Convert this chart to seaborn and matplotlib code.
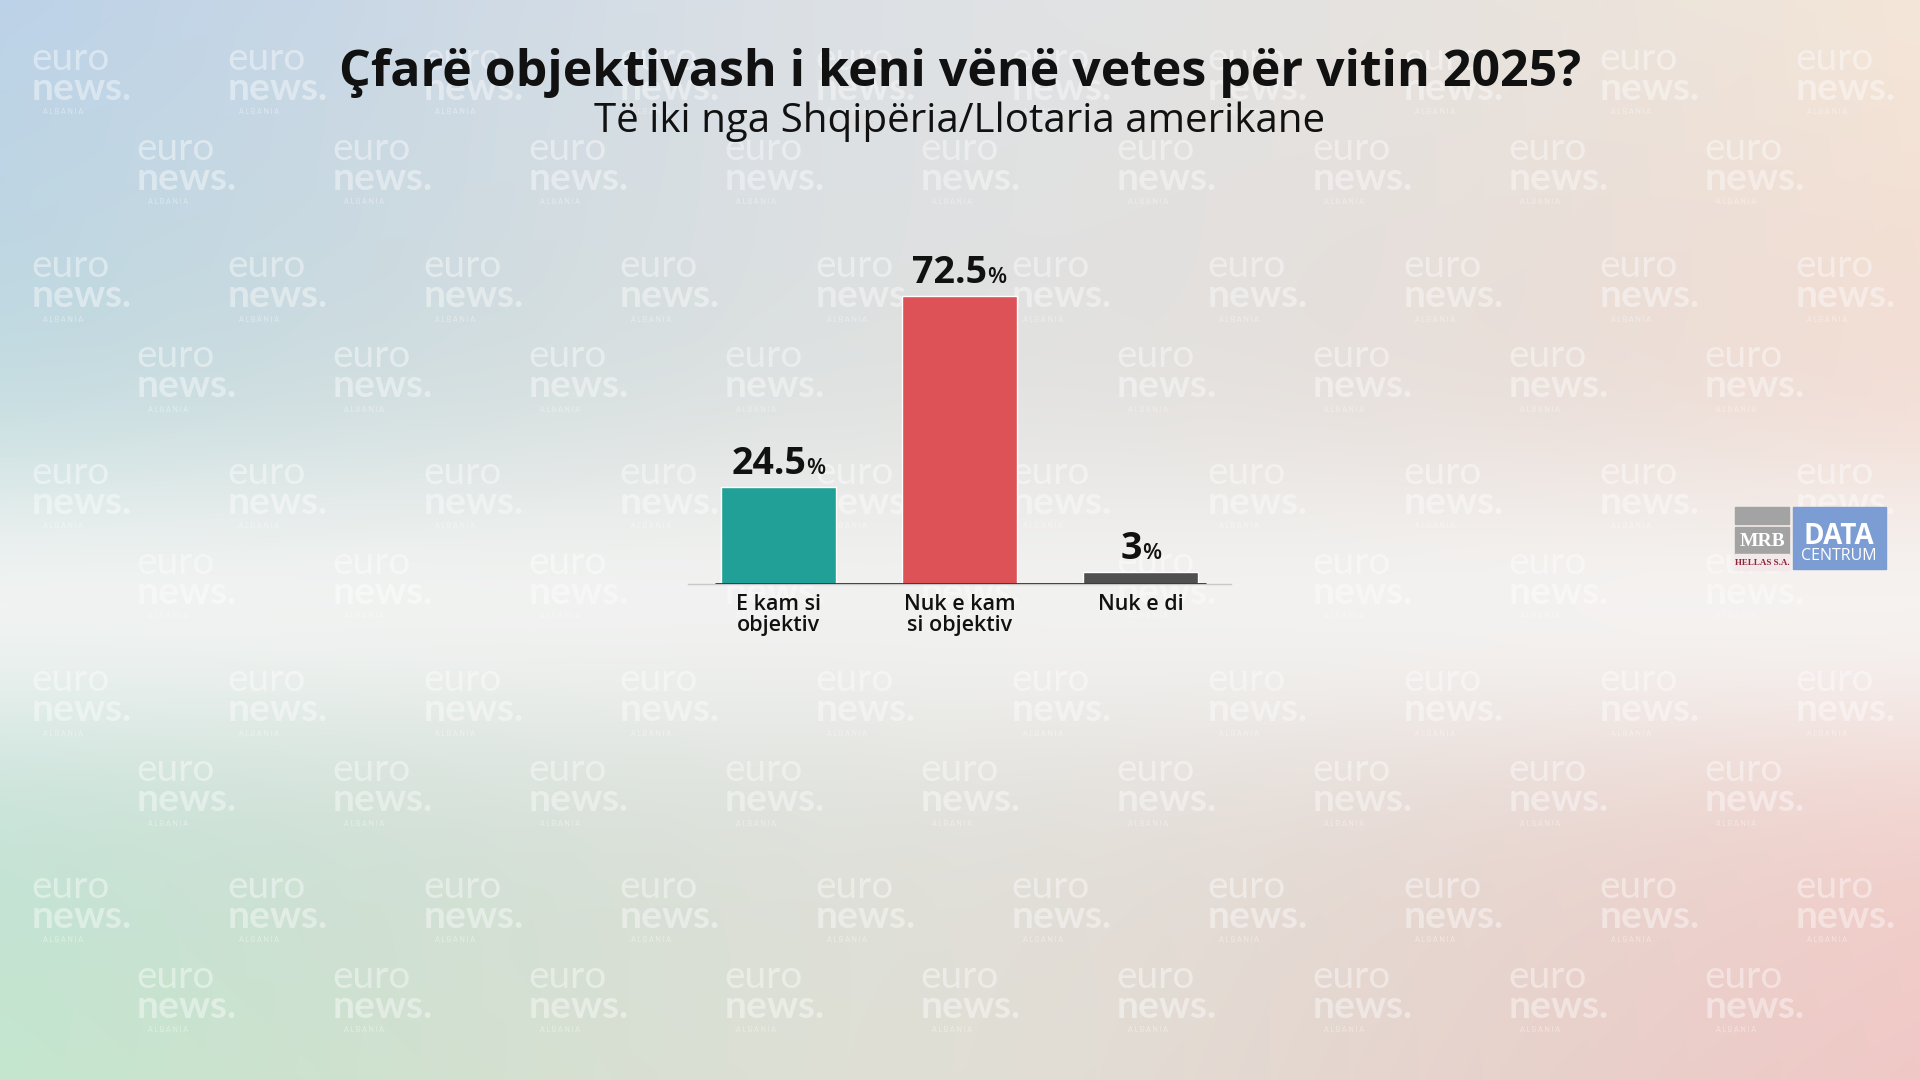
import numpy as np
import matplotlib.pyplot as plt
import seaborn as sns
from matplotlib.patches import Rectangle
from matplotlib.offsetbox import TextArea, HPacker, AnnotationBbox

# data
categories = ["E kam si\nobjektiv", "Nuk e kam\nsi objektiv", "Nuk e di"]
values = [24.5, 72.5, 3]
value_labels = ["24.5", "72.5", "3"]
bar_colors = ["#20a096", "#dc5257", "#505050"]

title = "Çfarë objektivash i keni vënë vetes për vitin 2025?"
subtitle = "Të iki nga Shqipëria/Llotaria amerikane"

sns.set_theme(style="white")
plt.rcParams["font.family"] = ["Open Sans", "DejaVu Sans"]
plt.rcParams["mathtext.fontset"] = "custom"
plt.rcParams["mathtext.rm"] = "Lato"
plt.rcParams["mathtext.bf"] = "Lato:bold"

fig = plt.figure(figsize=(19.2, 10.8), dpi=100)

# --- background (soft pastel gradient) ---
bg = fig.add_axes([0, 0, 1, 1], zorder=0)
H, W = 108, 192
yy, xx = np.mgrid[0:1:H * 1j, 0:1:W * 1j]
tl = np.array([188, 210, 232]) / 255
tr = np.array([244, 230, 216]) / 255
bl = np.array([196, 230, 206]) / 255
br = np.array([240, 200, 198]) / 255
X = xx[..., None]
Y = yy[..., None]
img = tl * (1 - X) * (1 - Y) + tr * X * (1 - Y) + bl * (1 - X) * Y + br * X * Y
band = (np.exp(-((yy - 0.56) / 0.15) ** 2) * 0.88)[..., None]
img = img * (1 - band) + band * np.array([0.965, 0.965, 0.96])
mid = (np.exp(-((xx - 0.5) / 0.28) ** 2) * 0.3)[..., None]
img = img * (1 - mid) + mid * np.array([0.935, 0.935, 0.935])
bg.imshow(img, extent=[0, 1920, 1080, 0], aspect="auto", interpolation="bicubic")
bg.set_xlim(0, 1920)
bg.set_ylim(1080, 0)
bg.axis("off")

# watermark pattern (euro / news. / ALBANIA)
wm = dict(color="white", alpha=0.42, ha="left", zorder=1)
for row in range(6):
    for xs, ys, ncol in [(31, 50, 10), (136, 140, 9)]:
        y0 = ys + 207 * row
        if y0 > 1060:
            continue
        for col in range(ncol):
            x0 = xs + 196 * col
            bg.text(x0, y0 - 9, "euro\n$\\mathbf{news.}$", fontsize=28, family="Lato",
                    va="top", linespacing=0.8, **wm)
            bg.text(x0 + 12, y0 + 62, "A L B A N I A", fontsize=5, family="Lato",
                    va="center", **wm)

# --- logo ---
bg.add_patch(Rectangle((1735, 507), 54, 17, color="#a3a3a3", zorder=4))
bg.add_patch(Rectangle((1735, 527), 54, 27, color="#a3a3a3", zorder=4))
bg.add_patch(Rectangle((1735, 554), 54, 16, color="#f3e9ea", zorder=4))
bg.add_patch(Rectangle((1793, 507), 93, 62, color="#7c9dd4", zorder=4))
bg.text(1762, 541, "MRB", fontsize=14, family="Liberation Serif", weight="bold",
        color="white", ha="center", va="center", zorder=5)
bg.text(1762, 563, "HELLAS S.A.", fontsize=6.5, family="Liberation Serif", weight="bold",
        color="#8e2438", ha="center", va="center", zorder=5)
bg.text(1839, 536, "DATA", fontsize=20, weight="bold", color="white", ha="center",
        va="center", zorder=5)
bg.text(1839, 556, "CENTRUM", fontsize=11.5, color="white", ha="center", va="center", zorder=5)

# --- bar chart ---
ax = fig.add_axes([688 / 1920, (1080 - 584) / 1080, 543 / 1920, 320 / 1080], zorder=2)
ax.patch.set_alpha(0)
sns.barplot(x=categories, y=values, hue=categories, palette=bar_colors, width=0.635,
            saturation=1, legend=False, ax=ax)
ax.set_xlim(-0.5, 2.5)
ax.set_ylim(0, 80.6)
ax.set_xlabel("")
ax.set_ylabel("")
ax.set_yticks([])
sns.despine(ax=ax, left=True)
ax.spines["bottom"].set_color("#c8c8c8")
ax.spines["bottom"].set_linewidth(1)
ax.hlines(0, -0.35, 2.36, color="#333333", lw=2, zorder=3)
ax.tick_params(axis="x", length=0, pad=7, labelsize=15.5, labelcolor="#111111")
for lab in ax.get_xticklabels():
    lab.set_fontweight("semibold")
    lab.set_linespacing(1.0)

for i, (v, lbl) in enumerate(zip(values, value_labels)):
    num = TextArea(lbl, textprops=dict(fontsize=27, weight="bold", color="#111111"))
    pct = TextArea("%", textprops=dict(fontsize=16, weight="semibold", color="#111111"))
    box = HPacker(children=[num, pct], align="baseline", pad=0, sep=0)
    ab = AnnotationBbox(box, (i, v), xybox=(0, 3), xycoords="data", boxcoords="offset points",
                        box_alignment=(0.5, 0), frameon=False, pad=0)
    ax.add_artist(ab)

# --- titles ---
fig.text(0.5, 1 - 73 / 1080, title, ha="center", va="center", fontsize=36,
         weight="bold", color="#111111", zorder=3)
fig.text(0.5, 1 - 122 / 1080, subtitle, ha="center", va="center", fontsize=29,
         color="#111111", zorder=3)

fig.savefig("out.png", dpi=100)
